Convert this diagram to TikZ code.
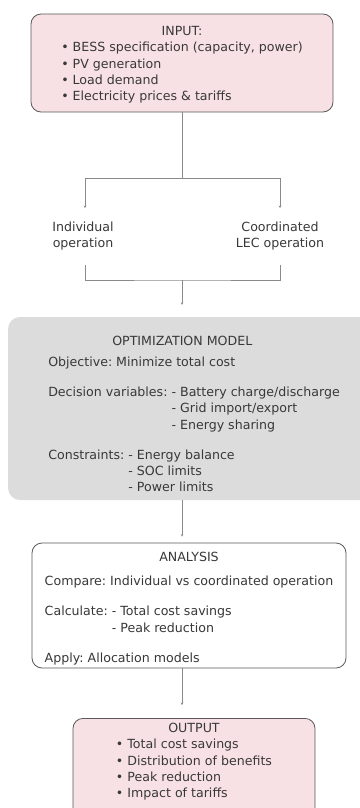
\documentclass[tikz,border=0pt]{standalone}
\usepackage{fontspec}
\setmainfont{DejaVu Sans}
\usepackage{xcolor}
\usepackage{tikz}
\usetikzlibrary{arrows.meta,positioning,calc}
\frenchspacing

\definecolor{inpink}{HTML}{F8E1E4}
\definecolor{modelgray}{HTML}{DCDCDC}
\definecolor{linegray}{HTML}{8A8A8A}
\definecolor{textgray}{HTML}{383838}

\begin{document}
\begin{tikzpicture}[
  x=1pt, y=-1pt,
  >={Stealth[length=2.5pt,width=2.5pt]},
  box/.style={rounded corners=10pt, align=center, inner sep=0pt, text=textgray, font=\fontsize{12.6}{16.3}\selectfont},
  inbox/.style={box, draw=black!65, line width=0.8pt, fill=inpink},
  model/.style={box, fill=modelgray, rounded corners=12pt},
  anbox/.style={box, draw=black!65, line width=0.8pt, fill=white},
  lbl/.style={align=center, text=textgray, font=\fontsize{12.6}{16.3}\selectfont},
  link/.style={draw=linegray, line width=0.8pt},
  arr/.style={link, ->}
]
\useasboundingbox (0,0) rectangle (359,808);

% Input
\node[inbox, minimum width=302pt, minimum height=98pt] (input) at (182,63) {%
  \begin{tabular}{@{}l@{}}
  \multicolumn{1}{c}{\rule{0pt}{15pt}INPUT:}\\
  • BESS specification (capacity, power)\\
  • PV generation\\
  • Load demand\\
  • Electricity prices \& tariffs
  \end{tabular}};

% Operation modes
\node[lbl] (indiv) at (83,236) {Individual\\operation};
\node[lbl] (coord) at (280,236) {Coordinated\\LEC operation};

\coordinate (split) at (182,178);
\coordinate (ind_top) at (85,208);
\coordinate (coo_top) at (280,208);
\coordinate (ind_bot) at (85,265);
\coordinate (coo_bot) at (280,265);
\coordinate (merge) at (182,280);

\draw[link] (input.south) -- (split);
\draw[arr] (split) -| (ind_top);
\draw[arr] (split) -| (coo_top);
\draw[link] (ind_bot) |- (merge) -| (coo_bot);

% Optimization model
\node[model, minimum width=372pt, minimum height=183pt] (optim) at (194,408.5) {%
  \begin{tabular}{@{}l@{ }l@{}}
  \multicolumn{2}{@{}l@{}}{\rule{0pt}{25pt}\hspace*{64pt}OPTIMIZATION MODEL}\\[5pt]
  \multicolumn{2}{@{}l@{}}{Objective: Minimize total cost}\\[13.5pt]
  Decision variables: & - Battery charge/discharge\\
   & - Grid import/export\\
   & - Energy sharing\\[13.5pt]
  \multicolumn{2}{@{}l@{}}{%
    \begin{tabular}{@{}l@{ }l@{}}
    Constraints: & - Energy balance\\
     & - SOC limits\\
     & - Power limits
    \end{tabular}}
  \end{tabular}};

\draw[arr, shorten >=12pt] (merge) -- (merge |- optim.north);

% Analysis
\node[anbox, minimum width=314pt, minimum height=125pt] (analysis) at (189,605.5) {%
  \begin{tabular}{@{}l@{ }l@{}}
  \multicolumn{2}{c}{\rule{0pt}{18pt}ANALYSIS}\\[7.5pt]
  \multicolumn{2}{@{}l@{}}{Compare: Individual vs coordinated operation}\\[14pt]
  Calculate: & - Total cost savings\\
   & - Peak reduction\\[14pt]
  \multicolumn{2}{@{}l@{}}{Apply: Allocation models}
  \end{tabular}};

\draw[arr, shorten >=6pt] (merge |- optim.south) -- (merge |- analysis.north);

% Output
\node[inbox, minimum width=242pt, anchor=north] (output) at (194,718) {%
  \begin{tabular}{@{}l@{}}
  \multicolumn{1}{c}{\rule{0pt}{14pt}OUTPUT}\\
  • Total cost savings\\
  • Distribution of benefits\\
  • Peak reduction\\
  • Impact of tariffs\rule[-30pt]{0pt}{30pt}
  \end{tabular}};

\draw[arr, shorten >=13pt] (merge |- analysis.south) -- (merge |- output.north);

\end{tikzpicture}
\end{document}
